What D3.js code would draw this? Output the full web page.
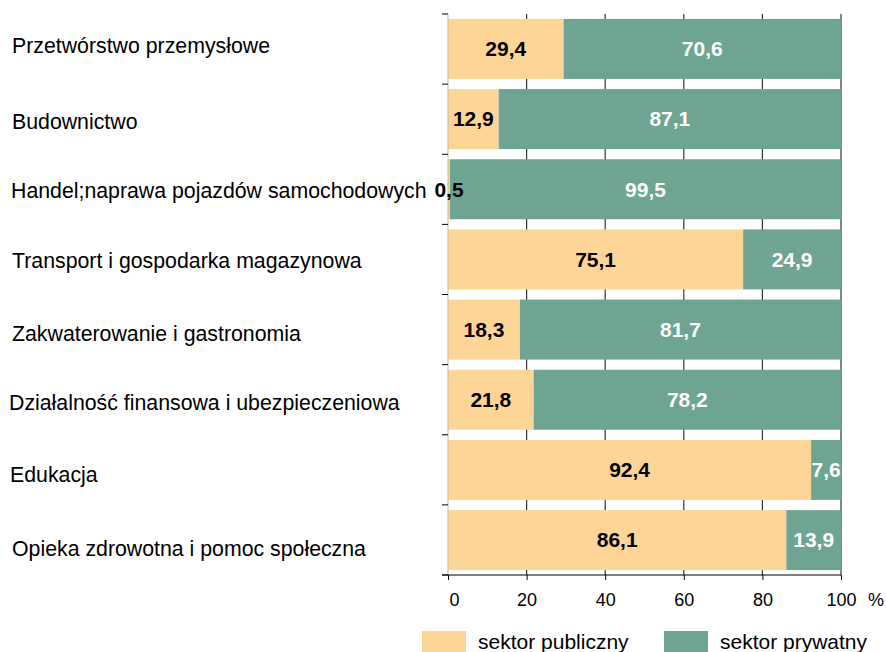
<!DOCTYPE html>
<html><head><meta charset="utf-8">
<script src="https://cdn.jsdelivr.net/npm/d3@7"></script>
<style>body{margin:0;background:#fff}svg{display:block}text{font-family:"Liberation Sans",Arial,sans-serif}</style>
</head><body>
<svg id="c" width="886" height="652"></svg>
<script>
const categories = ["Przetwórstwo przemysłowe","Budownictwo","Handel;naprawa pojazdów samochodowych","Transport i gospodarka magazynowa","Zakwaterowanie i gastronomia","Działalność finansowa i ubezpieczeniowa","Edukacja","Opieka zdrowotna i pomoc społeczna"];
const publiczny = [29.4,12.9,0.5,75.1,18.3,21.8,92.4,86.1];
const prywatny = [70.6,87.1,99.5,24.9,81.7,78.2,7.6,13.9];
const xTicks = [0,20,40,60,80,100];
const seriesNames = ["sektor publiczny","sektor prywatny"];
const colors = ["#FDD597","#6EA592"];
// layout nudges for category labels (pixels), as in the original layout
const labelNudgeY = [-3.5,2.5,1.5,1,4,2.5,4.5,8.5];
const labelNudgeX = [1,1,0,1,1,-2,-1,1];

const svg = d3.select("#c");
const x = d3.scaleLinear().domain([0,100]).range([448,841]);
const y = d3.scaleBand().domain(categories).range([14,575]).paddingInner(0.145).paddingOuter(0.07);
const band = d3.scaleBand().domain(categories).range([14,575]);
const fmt = v => String(v.toFixed(1)).replace(".",",");

// grid lines
svg.append("g").selectAll("line").data(xTicks.slice(1)).join("line")
  .attr("x1",d=>x(d)).attr("x2",d=>x(d)).attr("y1",14).attr("y2",575)
  .attr("stroke","#333").attr("stroke-width",1.2);

const data = categories.map((c,i)=>({c,i,p:publiczny[i],q:prywatny[i]}));
const g = svg.append("g");
g.selectAll("rect.p").data(data).join("rect").attr("class","p")
  .attr("x",x(0)).attr("y",d=>y(d.c)).attr("width",d=>x(d.p)-x(0)).attr("height",y.bandwidth()).attr("fill",colors[0]);
g.selectAll("rect.q").data(data).join("rect").attr("class","q")
  .attr("x",d=>x(d.p)).attr("y",d=>y(d.c)).attr("width",d=>x(d.p+d.q)-x(d.p)).attr("height",y.bandwidth()).attr("fill",colors[1]);

// left axis
svg.append("line").attr("x1",448).attr("x2",448).attr("y1",14).attr("y2",575).attr("stroke","#c8b89a").attr("stroke-width",1);
svg.append("g").selectAll("line").data(d3.range(9)).join("line")
  .attr("x1",442).attr("x2",448).attr("y1",i=>14+i*band.step()).attr("y2",i=>14+i*band.step()).attr("stroke","#000");

// bottom axis
const xa = svg.append("g").attr("transform","translate(0,575)")
  .call(d3.axisBottom(x).tickValues(xTicks).tickSize(5).tickPadding(13).tickFormat(d=>d));
xa.select(".domain").attr("d","M442,0H841").attr("stroke","#000");
xa.selectAll(".tick line").attr("stroke","#000");
xa.selectAll("text").attr("font-size",18).attr("fill","#000").attr("font-family","Liberation Sans, Arial, sans-serif");
xa.selectAll(".tick").filter(d=>d===0).select("text").attr("dx",6);
svg.append("text").attr("x",868).attr("y",606).attr("font-size",18).text("%");

// category labels
svg.append("g").selectAll("text").data(categories).join("text")
  .attr("x",(d,i)=>11+labelNudgeX[i]).attr("y",(d,i)=>band(d)+band.bandwidth()/2+labelNudgeY[i]).attr("dy","0.35em")
  .attr("font-size",21.3).attr("fill","#000").text(d=>d);

// value labels
svg.append("defs").append("clipPath").attr("id","clp").append("rect").attr("x",0).attr("y",0).attr("width",841).attr("height",652);
const vl = svg.append("g").attr("clip-path","url(#clp)").attr("font-size",21).attr("font-weight","bold");
vl.selectAll("text.p").data(data).join("text").attr("class","p").attr("text-anchor","middle")
  .attr("x",d=>(x(0)+x(d.p))/2).attr("y",d=>y(d.c)+y.bandwidth()/2).attr("dy","0.35em").attr("fill","#000").text(d=>fmt(d.p));
vl.selectAll("text.q").data(data).join("text").attr("class","q")
  .attr("fill","#fff").attr("y",d=>y(d.c)+y.bandwidth()/2).attr("dy","0.35em").text(d=>fmt(d.q))
  .each(function(d){
    const w = this.getComputedTextLength();
    const segW = x(d.p+d.q)-x(d.p);
    const t = d3.select(this);
    if (w > segW) t.attr("text-anchor","start").attr("x",x(d.p)+1.5);
    else t.attr("text-anchor","middle").attr("x",(x(d.p)+x(d.p+d.q))/2);
  });

// legend
const lg = svg.append("g");
const lx = [422,664];
seriesNames.forEach((s,i)=>{
  lg.append("rect").attr("x",lx[i]).attr("y",631).attr("width",44).attr("height",22).attr("fill",colors[i]);
  lg.append("text").attr("x",lx[i]+56).attr("y",649).attr("font-size",21).text(s);
});
</script>
</body></html>
